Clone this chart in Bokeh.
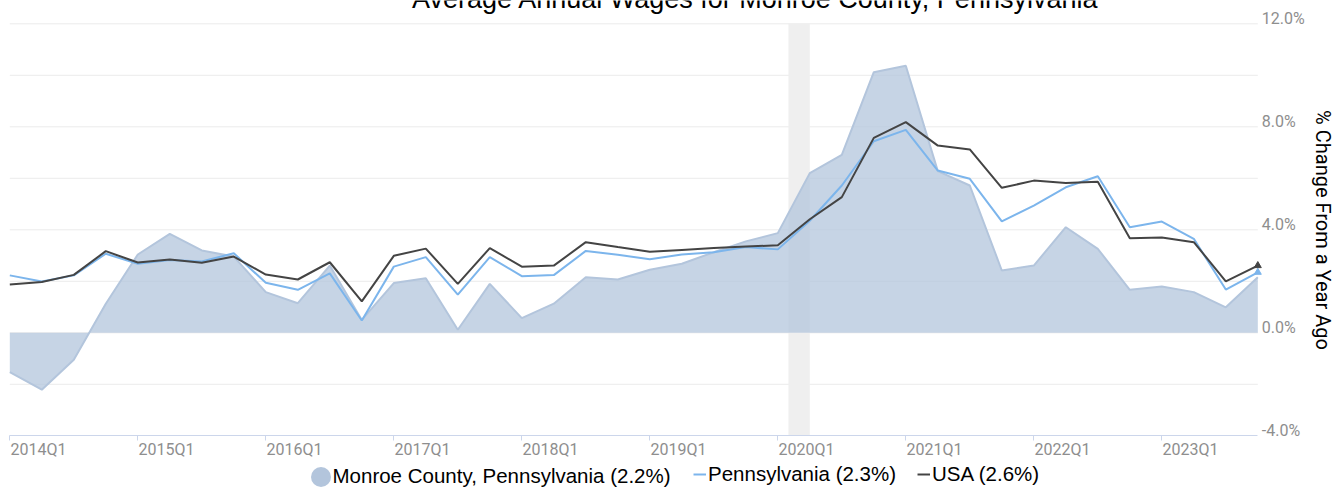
import math
import numpy as np
from bokeh.plotting import figure
from bokeh.models import (Range1d, LinearAxis, FixedTicker, PrintfTickFormatter,
                          Legend, LegendItem, Label)
from bokeh.embed import file_html
from bokeh.resources import INLINE

# ---------------- data ----------------
quarters = [f"{y}Q{q}" for y in range(2014, 2024) for q in range(1, 5)]
monroe = [-1.53, -2.21, -1.05, 1.13, 3.04, 3.84, 3.20, 2.96, 1.58, 1.15,
          2.61, 0.50, 1.93, 2.12, 0.12, 1.90, 0.57, 1.13, 2.16, 2.07,
          2.45, 2.68, 3.13, 3.55, 3.87, 6.20, 6.91, 10.12, 10.37, 6.28,
          5.72, 2.42, 2.61, 4.10, 3.26, 1.67, 1.80, 1.58, 0.99, 2.16]
pennsylvania = [2.23, 1.99, 2.23, 3.07, 2.68, 2.83, 2.77, 3.09, 1.94, 1.67,
                2.31, 0.48, 2.57, 2.94, 1.48, 2.94, 2.20, 2.24, 3.18, 3.03,
                2.86, 3.04, 3.13, 3.33, 3.24, 4.35, 5.72, 7.44, 7.88, 6.30,
                5.98, 4.33, 4.94, 5.65, 6.08, 4.10, 4.32, 3.65, 1.68, 2.35]
usa = [1.88, 1.97, 2.25, 3.17, 2.73, 2.85, 2.72, 2.96, 2.26, 2.07,
       2.74, 1.22, 2.99, 3.27, 1.90, 3.29, 2.57, 2.61, 3.52, 3.33,
       3.15, 3.22, 3.29, 3.35, 3.40, 4.41, 5.27, 7.57, 8.18, 7.27,
       7.12, 5.63, 5.91, 5.82, 5.87, 3.67, 3.70, 3.52, 2.00, 2.61]
series_labels = ["Monroe County, Pennsylvania (2.2%)", "Pennsylvania (2.3%)", "USA (2.6%)"]
title_text = "Average Annual Wages for Monroe County, Pennsylvania"
y_title = "% Change From a Year Ago"
y_label_ticks = [-4, 0, 4, 8, 12]
y_grid_ticks = [-2, 0, 2, 4, 6, 8, 10, 12]
recession_start = [24.333]   # 2020-02 in quarter-index units
recession_end = [25.0]       # 2020-04

x = list(range(len(quarters)))
x_tick_pos = x[::4]
x_tick_labels = quarters[::4]

C_AREA = "#b3c5dc"
C_PA = "#7cb5ec"
C_USA = "#444444"
C_TICK = "#8e8e8e"

W, H = 1344, 491
# ---------------- figure (frame covers the whole canvas) ----------------
p = figure(width=W, height=H,
           x_range=Range1d(-0.2906, 41.709), y_range=Range1d(-6.163, 12.905),
           x_axis_location=None, y_axis_location=None,
           toolbar_location=None, output_backend="svg",
           min_border=0, outline_line_color=None,
           background_fill_color="white", border_fill_color="white")
p.xgrid.visible = False
p.ygrid.visible = False

p.extra_x_ranges = {"xlab": Range1d(-0.2906 - 0.897, 41.709 - 0.897)}
p.extra_y_ranges = {"ylab": Range1d(-6.163 - 0.218, 12.905 - 0.218)}

# horizontal grid lines limited to the data span
n_g = len(y_grid_ticks)
p.segment(x0=[x[0]] * n_g, x1=[x[-1]] * n_g, y0=y_grid_ticks, y1=y_grid_ticks,
          line_color="#ebebeb", line_width=1)

# x axis: line + tick marks
ax_ticks = LinearAxis(fixed_location=y_label_ticks[0], bounds=(x[0], x[-1]),
                      ticker=FixedTicker(ticks=x_tick_pos),
                      major_label_overrides={int(t): "" for t in x_tick_pos},
                      axis_line_color="#ccd6eb", major_tick_line_color="#ccd6eb",
                      major_tick_in=0, major_tick_out=5, minor_tick_line_color=None,
                      major_label_text_font_size="0px", major_label_standoff=0)
p.add_layout(ax_ticks, "below")
# x axis: left-aligned labels
ax_labels = LinearAxis(x_range_name="xlab", fixed_location=y_label_ticks[0],
                       ticker=FixedTicker(ticks=x_tick_pos),
                       major_label_overrides={int(t): s for t, s in zip(x_tick_pos, x_tick_labels)},
                       axis_line_color=None, major_tick_line_color=None,
                       minor_tick_line_color=None, major_tick_in=0, major_tick_out=0,
                       major_label_standoff=4, major_label_text_font="Roboto",
                       major_label_text_font_size="16px", major_label_text_color=C_TICK)
p.add_layout(ax_labels, "below")

# right y axis labels
ay = LinearAxis(y_range_name="ylab", fixed_location=x[-1],
                ticker=FixedTicker(ticks=y_label_ticks),
                formatter=PrintfTickFormatter(format="%.1f%%"),
                axis_line_color=None, major_tick_line_color=None, minor_tick_line_color=None,
                major_tick_in=0, major_tick_out=0,
                major_label_standoff=4, major_label_text_font="Roboto",
                major_label_text_font_size="16px", major_label_text_color=C_TICK)
p.add_layout(ay, "right")

# ---------------- glyphs ----------------
p.quad(left=recession_start, right=recession_end,
       bottom=[y_label_ticks[0]], top=[y_label_ticks[-1]],
       fill_color="#efefef", line_color=None)
p.varea(x=x, y1=[0] * len(x), y2=monroe, fill_color=C_AREA, fill_alpha=0.75)
p.line(x, monroe, line_color=C_AREA, line_width=2)
r_pa = p.line(x, pennsylvania, line_color=C_PA, line_width=2)
r_usa = p.line(x, usa, line_color=C_USA, line_width=2)
p.scatter([x[-1]], [pennsylvania[-1]], marker="triangle", size=7, color=C_PA)
p.scatter([x[-1]], [usa[-1]], marker="triangle", size=7, color=C_USA)

# legend proxy (never drawn: NaN position)
r_area_leg = p.ellipse(x=np.array([np.nan]), y=np.array([np.nan]), width=20, height=20,
                       width_units="screen", height_units="screen",
                       fill_color=C_AREA, line_color=None)

leg_a = Legend(items=[LegendItem(label=series_labels[0], renderers=[r_area_leg])],
               location=(307.5, 2.5), orientation="horizontal",
               glyph_width=25, glyph_height=25, label_height=25, label_standoff=0,
               padding=0, margin=0, border_line_color=None, background_fill_alpha=0,
               label_text_font="Liberation Sans", label_text_font_size="20.5px",
               label_text_color="#000000")
leg_b = Legend(items=[LegendItem(label=series_labels[1], renderers=[r_pa]),
                      LegendItem(label=series_labels[2], renderers=[r_usa])],
               location=(693, 5), orientation="horizontal",
               glyph_width=13, glyph_height=20, label_height=20, label_standoff=2,
               spacing=21, padding=0, margin=0, border_line_color=None,
               background_fill_alpha=0,
               label_text_font="Liberation Sans", label_text_font_size="20.5px",
               label_text_color="#000000")
p.add_layout(leg_a, "center")
p.add_layout(leg_b, "center")

# chart title (cut by the top edge as in the reference)
p.add_layout(Label(x=755, y=H + 2, x_units="screen", y_units="screen", text=title_text,
                   text_font="Liberation Sans", text_font_size="27px",
                   text_align="center", text_baseline="alphabetic",
                   text_color="#000000"))
# right axis title, reading top to bottom
p.add_layout(Label(x=1322, y=H - 229.5, x_units="screen", y_units="screen", text=y_title,
                   angle=-math.pi / 2, text_font="Roboto", text_font_size="20px",
                   text_align="center", text_baseline="alphabetic",
                   text_color="#000000"))

open("out.html", "w").write(file_html(p, INLINE))
